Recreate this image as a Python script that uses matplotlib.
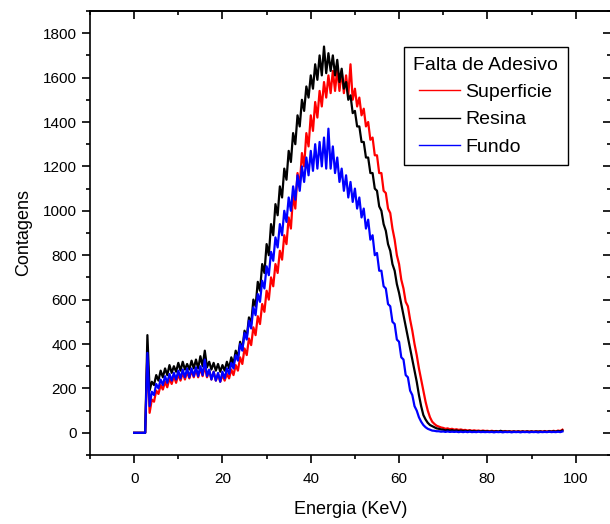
import numpy as np
import matplotlib
matplotlib.use('Agg')
import matplotlib.pyplot as plt
from matplotlib.ticker import MultipleLocator

plt.rcParams['font.family'] = ['Liberation Sans', 'DejaVu Sans']

# energy channels, 0.5 keV apart (0 .. 97 keV)
energia = np.arange(0, 97.5, 0.5)

# counts, one row = 5 keV
resina = [
    0, 0, 0, 0, 0, 0, 440, 190, 230, 215,
    260, 235, 280, 250, 290, 260, 305, 270, 300, 275,
    315, 280, 320, 285, 310, 285, 325, 290, 330, 290,
    345, 300, 370, 295, 320, 285, 315, 280, 310, 275,
    305, 280, 320, 290, 340, 310, 370, 340, 410, 375,
    460, 430, 520, 490, 600, 570, 680, 640, 760, 720,
    850, 800, 940, 890, 1030, 980, 1110, 1060, 1190, 1140,
    1270, 1220, 1350, 1300, 1430, 1380, 1500, 1450, 1560, 1510,
    1610, 1550, 1660, 1590, 1700, 1610, 1740, 1620, 1710, 1630,
    1700, 1610, 1680, 1580, 1640, 1550, 1580, 1500, 1520, 1440,
    1450, 1380, 1380, 1310, 1310, 1240, 1240, 1170, 1170, 1100,
    1090, 1020, 1000, 940, 910, 850, 820, 760, 730, 670,
    630, 580, 530, 480, 430, 380, 330, 280, 230, 170,
    120, 80, 60, 45, 35, 30, 25, 20, 18, 15,
    14, 11, 13, 10, 12, 9, 11, 8, 10, 8,
    9, 7, 9, 7, 8, 6, 8, 6, 8, 6,
    7, 5, 7, 5, 7, 5, 9, 5, 6, 5,
    6, 4, 6, 4, 6, 4, 6, 4, 6, 4,
    6, 4, 6, 5, 6, 4, 6, 4, 7, 5,
    7, 5, 8, 6, 10,
]

superficie = [
    0, 0, 0, 0, 0, 0, 370, 90, 150, 140,
    190, 175, 215, 195, 230, 205, 245, 220, 255, 225,
    265, 235, 270, 240, 275, 245, 280, 250, 285, 250,
    290, 255, 300, 250, 280, 240, 275, 235, 265, 230,
    260, 235, 265, 245, 285, 260, 305, 280, 340, 310,
    380, 350, 425, 395, 475, 440, 525, 490, 580, 545,
    640, 600, 700, 660, 760, 720, 820, 780, 890, 850,
    970, 920, 1070, 1010, 1170, 1110, 1260, 1200, 1350, 1290,
    1430, 1360, 1490, 1420, 1540, 1470, 1580, 1510, 1610, 1530,
    1630, 1540, 1640, 1540, 1630, 1530, 1610, 1520, 1660, 1500,
    1550, 1470, 1510, 1430, 1460, 1380, 1400, 1320, 1330, 1250,
    1250, 1170, 1170, 1090, 1080, 1010, 990, 920, 870, 800,
    760, 690, 650, 590, 570, 510, 460, 400, 350, 290,
    240, 190, 140, 100, 70, 50, 40, 32, 28, 24,
    22, 18, 20, 16, 18, 14, 16, 13, 15, 12,
    13, 10, 12, 9, 11, 9, 10, 8, 10, 8,
    9, 7, 9, 7, 8, 6, 8, 6, 8, 6,
    7, 5, 7, 5, 7, 5, 7, 5, 7, 5,
    7, 5, 7, 5, 7, 5, 8, 5, 8, 6,
    9, 6, 10, 8, 14,
]

fundo = [
    0, 0, 0, 0, 0, 0, 360, 120, 185, 170,
    220, 200, 240, 215, 255, 225, 265, 235, 270, 240,
    280, 245, 285, 250, 290, 250, 290, 255, 295, 255,
    300, 260, 330, 255, 285, 240, 275, 235, 270, 230,
    275, 245, 290, 265, 315, 290, 350, 325, 400, 370,
    450, 420, 505, 470, 565, 530, 625, 590, 685, 650,
    750, 710, 815, 775, 880, 835, 940, 890, 1000, 950,
    1060, 1000, 1110, 1050, 1160, 1090, 1200, 1130, 1240, 1160,
    1270, 1180, 1300, 1190, 1310, 1200, 1330, 1190, 1370, 1190,
    1290, 1170, 1240, 1130, 1190, 1090, 1160, 1060, 1130, 1040,
    1100, 1010, 1060, 970, 1010, 920, 960, 870, 890, 800,
    810, 730, 730, 660, 650, 580, 570, 500, 490, 420,
    410, 340, 330, 260, 250, 190, 170, 120, 100, 70,
    50, 35, 25, 18, 14, 10, 9, 7, 7, 5,
    6, 4, 6, 4, 5, 4, 5, 3, 5, 3,
    5, 3, 5, 3, 4, 3, 5, 3, 4, 3,
    4, 3, 4, 2, 4, 3, 4, 2, 4, 3,
    4, 2, 4, 3, 4, 2, 4, 3, 4, 2,
    4, 3, 4, 2, 4, 3, 4, 3, 5, 3,
    4, 3, 5, 3, 6,
]

series = [('Superficie', superficie, 'red'),
          ('Resina', resina, 'black'),
          ('Fundo', fundo, 'blue')]


def main():
    fig = plt.figure(figsize=(6.1, 5.24), dpi=100)
    ax = fig.add_axes([90 / 610, 69 / 524, 521 / 610, 444 / 524])

    for name, counts, color in series:
        ax.plot(energia, counts, color=color, lw=1.6, label=name)

    ax.set_xlim(-10, 108)
    ax.set_ylim(-100, 1900)
    ax.xaxis.set_major_locator(MultipleLocator(20))
    ax.xaxis.set_minor_locator(MultipleLocator(10))
    ax.yaxis.set_major_locator(MultipleLocator(200))
    ax.yaxis.set_minor_locator(MultipleLocator(100))

    for sp in ax.spines.values():
        sp.set_linewidth(1.2)
    ax.tick_params(which='both', direction='out', width=1.2, labelsize=11)
    ax.tick_params(which='major', length=6)
    ax.tick_params(which='minor', length=3)
    ax.tick_params(axis='x', which='major', pad=6)
    ax.tick_params(axis='y', which='major', pad=3.5)

    # inward ticks on top and right like the original
    top = ax.secondary_xaxis('top')
    right = ax.secondary_yaxis('right')
    for sec, axis in ((top, top.xaxis), (right, right.yaxis)):
        axis.set_major_locator(MultipleLocator(20 if sec is top else 200))
        axis.set_minor_locator(MultipleLocator(10 if sec is top else 100))
        sec.tick_params(which='both', direction='in', width=1.2, labelleft=False,
                        labelright=False, labeltop=False, labelbottom=False)
        sec.tick_params(which='major', length=6)
        sec.tick_params(which='minor', length=3)
        for sp in sec.spines.values():
            sp.set_linewidth(1.2)

    ax.set_xlabel('Energia (KeV)', fontsize=13, labelpad=11)
    ax.set_ylabel('Contagens', fontsize=13, labelpad=8)

    leg = ax.legend(title='Falta de Adesivo', loc='upper left',
                    bbox_to_anchor=(0.602, 0.919), borderaxespad=0,
                    fontsize=14, title_fontsize=14, fancybox=False,
                    edgecolor='black', framealpha=1, handlelength=2.1,
                    handletextpad=0.25, labelspacing=0.5, borderpad=0.5)
    leg.get_frame().set_linewidth(1.0)
    for line in leg.get_lines():
        line.set_linewidth(1.0)

    fig.savefig('out.png', dpi=100)


if __name__ == '__main__':
    main()
